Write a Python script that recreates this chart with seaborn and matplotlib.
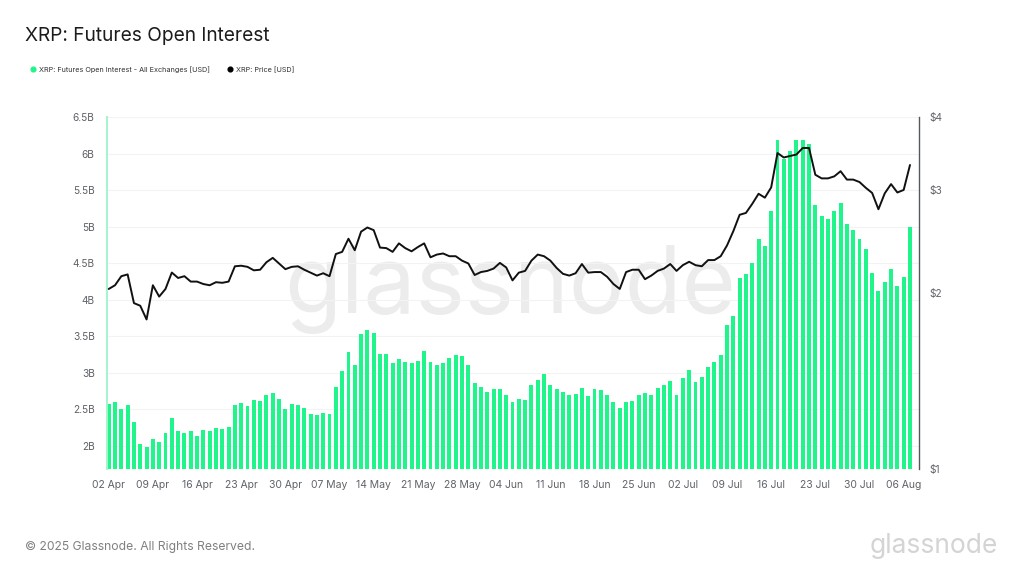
import numpy as np
import pandas as pd
import matplotlib
matplotlib.use('Agg')
import matplotlib.pyplot as plt
from matplotlib.lines import Line2D
import seaborn as sns

# open interest per day, billion USD
open_interest = [
    2.575, 2.60, 2.50, 2.56, 2.32, 2.03, 1.99, 2.09, 2.05, 2.17, 2.38, 2.21, 2.17, 2.20,
    2.13, 2.22, 2.20, 2.24, 2.23, 2.26, 2.56, 2.59, 2.55, 2.63, 2.62, 2.69, 2.72, 2.64,
    2.50, 2.57, 2.56, 2.52, 2.44, 2.42, 2.45, 2.44, 2.81, 3.03, 3.28, 3.11, 3.53, 3.58,
    3.55, 3.26, 3.26, 3.14, 3.19, 3.15, 3.13, 3.16, 3.30, 3.15, 3.11, 3.13, 3.20, 3.24,
    3.23, 3.10, 2.86, 2.80, 2.74, 2.78, 2.78, 2.70, 2.60, 2.64, 2.63, 2.83, 2.90, 2.99,
    2.83, 2.78, 2.74, 2.70, 2.71, 2.79, 2.68, 2.78, 2.77, 2.70, 2.60, 2.52, 2.60, 2.61,
    2.70, 2.72, 2.69, 2.79, 2.83, 2.89, 2.69, 2.93, 3.04, 2.87, 2.94, 3.08, 3.15, 3.24,
    3.66, 3.78, 4.30, 4.35, 4.50, 4.83, 4.73, 5.22, 6.18, 5.93, 6.03, 6.19, 6.19, 6.13,
    5.30, 5.14, 5.10, 5.21, 5.32, 5.03, 4.95, 4.83, 4.70, 4.36, 4.12, 4.24, 4.42, 4.19,
    4.31, 4.99,
]

# XRP price, USD
price = [
    2.03, 2.06, 2.135, 2.15, 1.92, 1.90, 1.80, 2.06, 1.97, 2.03, 2.166, 2.12, 2.135, 2.09,
    2.09, 2.07, 2.06, 2.085, 2.08, 2.09, 2.22, 2.225, 2.215, 2.185, 2.19, 2.256, 2.295, 2.245,
    2.195, 2.215, 2.22, 2.19, 2.165, 2.14, 2.16, 2.135, 2.33, 2.35, 2.475, 2.365, 2.545, 2.587,
    2.56, 2.39, 2.385, 2.35, 2.43, 2.385, 2.355, 2.395, 2.43, 2.30, 2.325, 2.335, 2.31, 2.31,
    2.27, 2.245, 2.145, 2.17, 2.18, 2.20, 2.25, 2.21, 2.10, 2.165, 2.18, 2.27, 2.325, 2.31,
    2.27, 2.205, 2.155, 2.14, 2.16, 2.24, 2.165, 2.17, 2.17, 2.13, 2.07, 2.03, 2.17, 2.19,
    2.19, 2.11, 2.14, 2.18, 2.20, 2.24, 2.18, 2.23, 2.26, 2.23, 2.22, 2.275, 2.275, 2.31,
    2.41, 2.55, 2.72, 2.74, 2.84, 2.955, 2.91, 3.03, 3.47, 3.41, 3.43, 3.45, 3.54, 3.54,
    3.185, 3.14, 3.14, 3.165, 3.23, 3.125, 3.125, 3.095, 3.025, 2.965, 2.78, 2.96, 3.07, 2.97,
    3.00, 3.31,
]

oi_ticks = [2, 2.5, 3, 3.5, 4, 4.5, 5, 5.5, 6, 6.5]
oi_tick_labels = ['2B', '2.5B', '3B', '3.5B', '4B', '4.5B', '5B', '5.5B', '6B', '6.5B']
price_ticks = [1, 2, 3, 4]
price_tick_labels = ['$1', '$2', '$3', '$4']

df = pd.DataFrame({
    'date': pd.date_range('2025-04-02', periods=len(open_interest)),
    'oi': open_interest,
    'price': price,
})
df['day'] = df['date'].dt.strftime('%d %b')
df['pos'] = np.arange(len(df))

GREEN = '#1ff58a'
GREY = '#5f6368'

sns.set_theme(style='white')
plt.rcParams['font.family'] = ['Inter', 'DejaVu Sans']

fig = plt.figure(figsize=(10.24, 5.76), dpi=100)
ax = fig.add_axes([106.5 / 1024, 1 - 468.5 / 576, (918.5 - 106.5) / 1024, (468.5 - 117) / 576])

# bars on the left axis
sns.barplot(data=df, x='day', y='oi', color=GREEN, saturation=1, width=0.62, edgecolor='none', linewidth=0, ax=ax, zorder=2)
ax.set_xlim(-0.35, 128.35)
ax.set_ylim(1.69, 6.5)
ax.set_yticks(oi_ticks, labels=oi_tick_labels)
week = df['pos'].values[::7]
ax.set_xticks(week, labels=df['day'].values[::7])
ax.set_xlabel('')
ax.set_ylabel('')
ax.tick_params(axis='y', length=0, pad=8.5, labelsize=7.3, labelcolor=GREY)
ax.tick_params(axis='x', length=0, pad=8.5, labelsize=7.5, labelcolor=GREY)
ax.grid(axis='y', color='#f3f3f3', lw=0.8)
ax.set_axisbelow(True)
sns.despine(ax=ax, top=True, right=True, bottom=True)
ax.spines['left'].set_color('#a5f5cc')
ax.spines['left'].set_linewidth(1.4)

# price on a log axis
ax2 = ax.twinx()
sns.lineplot(data=df, x='pos', y='price', color='#111111', lw=1.4, ax=ax2, zorder=3)
ax2.set_yscale('log')
ax2.set_ylim(1, 4)
ax2.set_yticks(price_ticks, labels=price_tick_labels)
ax2.minorticks_off()
ax2.set_ylabel('')
ax2.tick_params(axis='y', length=0, pad=8, labelsize=7.3, labelcolor=GREY)
ax2.grid(False)
for side in ['top', 'left', 'bottom']:
    ax2.spines[side].set_visible(False)
ax2.spines['right'].set_color('#55585c')
ax2.spines['right'].set_linewidth(1.0)

# watermark behind the bars
ax.text(510 / 1024, 1 - 313 / 576, 'glassnode', transform=fig.transFigure, ha='center', va='baseline',
        fontsize=67, color='#ececec', zorder=0.5)

fig.text(25 / 1024, 1 - 36 / 576, 'XRP: Futures Open Interest', fontsize=13.75, color='#1c1c1c', va='center')
fig.text(25 / 1024, 1 - 547 / 576, '© 2025 Glassnode. All Rights Reserved.', fontsize=8.75, color='#808080', va='center')
fig.text(934 / 1024, 1 - 553 / 576, 'glassnode', fontsize=19, color='#d4d4d4', ha='center', va='baseline')

handles = [
    Line2D([], [], ls='', marker='o', ms=3.4, color=GREEN),
    Line2D([], [], ls='', marker='o', ms=3.4, color='black'),
]
labels = ['XRP: Futures Open Interest - All Exchanges [USD]', 'XRP: Price [USD]']
fig.legend(handles, labels, loc='center left', bbox_to_anchor=(27 / 1024, 1 - 69.5 / 576), ncol=2, frameon=False,
           fontsize=5.25, labelcolor='#333333', handlelength=1.6, handletextpad=0, columnspacing=2.0, borderaxespad=0, borderpad=0)

fig.savefig('out.png', dpi=100)
